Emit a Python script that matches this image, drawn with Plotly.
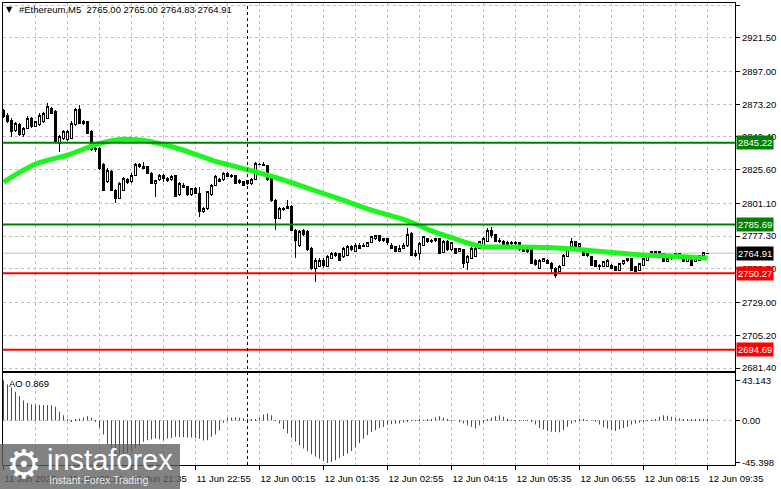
import plotly.graph_objects as go
import pandas as pd

# ---------------- data ----------------
symbol_title = "#Ethereum,M5  2765.00 2765.00 2764.83 2764.91"
ao_title = "AO 0.869"
start_time = "2025-06-11 18:55"
n_bars = 177

opens = [2868.5, 2865.3, 2861.7, 2854.4, 2858.1, 2850.8, 2855.7, 2862.9, 2856.9, 2858.1,
         2860.5, 2862.9, 2870.2, 2867.7, 2844.8, 2848.4, 2847.2, 2848.4, 2858.1, 2869.0,
         2859.3, 2860.5, 2853.2, 2841.1, 2841.1, 2829.0, 2816.8, 2824.1, 2810.8, 2804.8,
         2810.8, 2818.8, 2816.8, 2821.7, 2829.0, 2827.8, 2827.8, 2823.0, 2815.7, 2818.1,
         2821.7, 2819.5, 2818.1, 2821.0, 2807.2, 2814.4, 2813.2, 2807.2, 2812.0, 2808.4,
         2795.1, 2797.6, 2807.2, 2814.4, 2818.1, 2818.1, 2823.0, 2820.5, 2821.7, 2816.0,
         2816.8, 2815.2, 2815.2, 2818.6, 2829.0, 2829.7, 2828.3, 2819.5, 2803.5, 2790.2,
         2797.5, 2797.5, 2798.7, 2781.7, 2770.1, 2781.7, 2780.6, 2768.4, 2753.8, 2755.0,
         2759.9, 2755.0, 2761.1, 2764.8, 2764.8, 2762.3, 2763.5, 2769.6, 2766.0, 2770.8,
         2769.6, 2769.6, 2773.0, 2775.9, 2777.4, 2774.4, 2775.7, 2770.8, 2769.6, 2766.0,
         2768.4, 2770.8, 2779.3, 2764.8, 2765.0, 2770.8, 2775.7, 2773.7, 2774.4, 2775.2,
         2765.7, 2773.7, 2767.2, 2768.4, 2766.0, 2767.2, 2758.3, 2761.1, 2762.3, 2768.4,
         2770.8, 2773.2, 2781.7, 2778.1, 2773.2, 2773.2, 2771.5, 2773.0, 2772.0, 2772.3,
         2768.4, 2766.0, 2767.2, 2759.9, 2753.9, 2758.7, 2759.9, 2757.6, 2753.9, 2751.3,
         2756.2, 2762.3, 2769.6, 2773.2, 2769.6, 2766.0, 2763.5, 2762.3, 2759.9, 2755.0,
         2755.0, 2755.0, 2756.2, 2755.0, 2752.4, 2757.6, 2759.9, 2761.1, 2755.0, 2752.4,
         2756.2, 2759.9, 2764.8, 2766.0, 2764.8, 2764.8, 2758.7, 2761.1, 2762.3, 2764.8,
         2762.3, 2758.7, 2761.1, 2758.7, 2759.9, 2763.5, 2765.00]
highs = [2869.9, 2866.8, 2863.2, 2860.2, 2859.5, 2856.6, 2864.6, 2863.9, 2861.0, 2866.8,
         2867.5, 2873.8, 2871.4, 2869.0, 2850.8, 2854.4, 2854.4, 2861.0, 2870.4, 2872.6,
         2861.7, 2861.3, 2854.4, 2842.8, 2841.8, 2830.4, 2826.8, 2825.3, 2811.5, 2816.6,
         2820.3, 2819.5, 2823.2, 2830.4, 2830.2, 2831.4, 2828.3, 2824.0, 2818.1, 2822.4,
         2822.4, 2820.3, 2821.7, 2821.7, 2816.6, 2815.9, 2813.7, 2812.3, 2813.0, 2813.2,
         2798.5, 2810.1, 2815.2, 2821.7, 2819.5, 2824.0, 2824.1, 2822.4, 2822.0, 2818.8,
         2817.4, 2818.1, 2819.5, 2831.2, 2830.4, 2831.2, 2829.0, 2820.3, 2804.3, 2798.5,
         2798.5, 2803.5, 2799.9, 2782.5, 2781.7, 2782.5, 2781.7, 2769.3, 2761.4, 2761.4,
         2761.4, 2763.5, 2765.7, 2765.9, 2765.0, 2769.3, 2770.8, 2770.8, 2772.3, 2772.0,
         2772.0, 2773.2, 2777.4, 2778.1, 2778.1, 2775.9, 2775.9, 2772.3, 2770.1, 2770.8,
         2772.0, 2783.0, 2780.3, 2767.2, 2773.2, 2777.4, 2775.9, 2775.0, 2776.2, 2775.7,
         2774.4, 2774.4, 2773.2, 2768.7, 2768.7, 2767.9, 2763.5, 2769.3, 2769.3, 2773.7,
         2776.6, 2783.0, 2784.2, 2778.8, 2775.7, 2774.4, 2773.7, 2773.7, 2773.7, 2773.2,
         2769.0, 2768.4, 2767.9, 2760.6, 2760.6, 2761.4, 2760.6, 2758.5, 2754.8, 2756.2,
         2764.3, 2767.9, 2775.7, 2773.7, 2772.3, 2766.4, 2765.3, 2762.8, 2760.2, 2757.0,
         2759.2, 2760.6, 2757.0, 2755.5, 2757.8, 2760.2, 2761.4, 2761.4, 2755.5, 2757.8,
         2761.4, 2765.0, 2766.4, 2766.1, 2766.1, 2765.0, 2761.4, 2762.4, 2765.0, 2765.0,
         2762.4, 2762.4, 2761.4, 2761.4, 2763.9, 2766.0, 2765.00]
lows = [2863.2, 2859.5, 2849.6, 2853.0, 2850.1, 2849.3, 2855.2, 2855.9, 2856.3, 2857.3,
        2859.5, 2862.4, 2866.1, 2845.7, 2838.6, 2847.2, 2846.4, 2847.9, 2857.3, 2858.8,
        2858.4, 2851.5, 2839.2, 2838.4, 2825.3, 2810.1, 2815.9, 2810.3, 2801.1, 2804.3,
        2810.1, 2815.2, 2815.9, 2821.0, 2826.8, 2826.6, 2822.4, 2815.2, 2806.0, 2817.4,
        2816.8, 2816.6, 2817.7, 2805.7, 2806.4, 2812.0, 2806.4, 2806.4, 2807.9, 2791.5,
        2794.1, 2796.3, 2806.4, 2813.7, 2816.6, 2817.4, 2820.3, 2819.9, 2815.2, 2815.2,
        2814.0, 2814.8, 2814.4, 2818.1, 2828.7, 2828.3, 2817.4, 2802.1, 2781.7, 2789.8,
        2795.6, 2797.3, 2781.0, 2761.1, 2769.4, 2777.4, 2766.4, 2752.4, 2744.1, 2754.8,
        2754.1, 2754.8, 2760.6, 2762.3, 2759.2, 2761.4, 2762.8, 2766.4, 2765.7, 2768.0,
        2769.3, 2769.3, 2772.3, 2774.4, 2773.2, 2773.2, 2770.8, 2767.9, 2765.7, 2765.5,
        2767.9, 2769.6, 2763.1, 2762.3, 2759.9, 2770.5, 2772.0, 2772.0, 2773.2, 2764.8,
        2765.5, 2766.8, 2766.8, 2764.3, 2765.7, 2754.0, 2752.4, 2760.6, 2762.0, 2767.9,
        2770.1, 2773.0, 2775.7, 2773.0, 2772.0, 2770.8, 2769.6, 2768.4, 2768.4, 2766.8,
        2765.7, 2764.8, 2757.1, 2755.9, 2753.7, 2758.5, 2757.1, 2750.2, 2746.6, 2751.2,
        2755.9, 2762.0, 2769.3, 2769.3, 2769.3, 2763.1, 2762.3, 2755.9, 2754.8, 2752.4,
        2754.8, 2754.8, 2753.7, 2752.1, 2752.1, 2756.2, 2758.7, 2752.1, 2751.2, 2752.1,
        2755.9, 2759.5, 2763.5, 2764.7, 2763.5, 2758.5, 2758.5, 2759.9, 2762.0, 2761.0,
        2758.5, 2758.5, 2755.9, 2758.5, 2759.5, 2763.1, 2764.83]
closes = [2864.1, 2860.5, 2853.2, 2859.3, 2850.8, 2855.7, 2862.9, 2856.9, 2860.3, 2865.3,
          2866.6, 2871.4, 2866.6, 2845.9, 2849.6, 2853.2, 2853.2, 2859.3, 2869.0, 2859.3,
          2860.5, 2852.0, 2839.9, 2839.9, 2826.6, 2810.8, 2825.3, 2810.8, 2804.8, 2815.7,
          2819.4, 2816.6, 2821.7, 2829.0, 2827.8, 2826.8, 2823.0, 2815.7, 2817.4, 2821.7,
          2819.5, 2817.4, 2820.5, 2806.0, 2815.7, 2812.3, 2807.2, 2812.0, 2808.4, 2795.1,
          2797.6, 2809.6, 2814.4, 2820.5, 2816.8, 2823.0, 2820.5, 2821.7, 2815.7, 2817.4,
          2814.4, 2817.4, 2818.8, 2830.2, 2829.7, 2828.6, 2818.1, 2803.5, 2790.2, 2797.5,
          2796.3, 2798.7, 2781.7, 2774.4, 2780.6, 2778.1, 2767.2, 2753.8, 2759.9, 2759.9,
          2755.6, 2762.3, 2764.8, 2763.5, 2759.9, 2768.4, 2769.6, 2767.2, 2770.8, 2768.4,
          2770.8, 2773.0, 2776.9, 2777.4, 2774.4, 2775.7, 2772.3, 2768.4, 2766.0, 2768.4,
          2770.5, 2778.1, 2763.5, 2763.5, 2772.0, 2776.9, 2773.7, 2774.4, 2775.7, 2765.0,
          2773.7, 2767.2, 2772.3, 2764.8, 2768.4, 2757.6, 2762.3, 2768.4, 2768.4, 2773.2,
          2775.7, 2781.7, 2777.4, 2773.2, 2774.4, 2771.5, 2773.0, 2772.0, 2773.0, 2767.2,
          2766.0, 2767.9, 2757.6, 2756.3, 2759.9, 2761.1, 2757.6, 2753.9, 2749.0, 2755.0,
          2763.5, 2767.2, 2773.2, 2769.6, 2772.0, 2763.5, 2764.8, 2756.2, 2755.0, 2756.2,
          2758.7, 2759.9, 2753.9, 2752.4, 2757.6, 2759.9, 2761.1, 2752.4, 2751.3, 2757.6,
          2761.1, 2764.8, 2766.0, 2764.8, 2766.0, 2758.7, 2761.1, 2762.3, 2764.8, 2761.1,
          2758.7, 2762.3, 2756.2, 2761.1, 2763.5, 2765.7, 2764.91]

ao_values = [43.14, 38.6, 35.3, 30.7, 26.1, 21.4, 18.6, 17.5, 16.9, 16.7,
             16.5, 16.4, 16.2, 14.6, 9.3, 5.7, 1.0, -0.9, 0.6, 2.1,
             3.2, 4.6, 2.9, -1.4, -7.9, -15.0, -25.0, -32.6, -36.9, -39.0,
             -38.0, -35.0, -32.0, -29.6, -26.4, -22.8, -21.1, -20.0, -19.3, -20.0,
             -21.1, -19.3, -18.6, -17.5, -17.7, -17.9, -18.1, -18.3, -18.6, -19.6,
             -21.4, -21.1, -17.5, -15.0, -10.7, -2.5, 2.9, 3.2, 3.4, 2.9,
             2.1, 1.8, 1.4, 1.1, 2.9, 6.4, 7.5, 5.7, 0.4, -3.2,
             -9.0, -14.0, -18.5, -22.5, -26.5, -30.0, -33.0, -36.0, -38.5, -41.0,
             -43.3, -45.4, -44.5, -42.5, -40.5, -38.0, -35.5, -32.5, -29.0, -24.0,
             -19.5, -15.7, -12.3, -10.4, -8.0, -6.8, -4.5, -3.7, -3.4, -3.2,
             -2.1, -1.1, -0.5, 0.3, 0.6, 0.2, 0.8, 1.2, 3.6, 4.6,
             2.9, 1.4, 0.4, 0.0, -0.7, -3.2, -5.0, -6.8, -8.6, -5.0,
             -2.1, 0.7, 2.9, 4.6, 5.7, 3.9, 2.1, 0.4, 0.3, 0.1,
             -0.2, -0.5, -1.4, -4.3, -7.9, -9.6, -11.1, -12.1, -12.3, -12.5,
             -10.4, -6.8, -3.2, -0.7, 1.1, 1.2, 0.4, 0.0, -0.7, -4.3,
             -7.1, -8.6, -10.4, -11.1, -9.3, -7.9, -6.8, -4.3, -3.2, -2.5,
             -1.4, -0.4, 0.4, 1.4, 3.9, 5.7, 5.0, 3.9, 2.9, 2.1,
             1.6, 1.3, 1.1, 1.0, 0.95, 0.9, 0.869]

ma_bar_index = [0, 8, 16, 24, 30, 36, 44, 52, 60, 68, 76, 84, 92, 100, 104, 108,
                112, 116, 120, 124, 128, 136, 144, 152, 160, 168, 176]
ma_values = [2816.6, 2829.7, 2836.2, 2844.6, 2847.7, 2846.4, 2840.6, 2832.6, 2826.4,
             2819.9, 2812.2, 2804.3, 2796.2, 2789.4, 2784.9, 2780.0, 2776.3, 2772.3,
             2769.6, 2769.4, 2769.4, 2769.0, 2767.6, 2765.4, 2763.5, 2762.6, 2761.2]

price_ticks = [2945.30, 2921.50, 2897.00, 2873.20, 2849.40, 2825.60, 2801.10,
               2777.30, 2753.50, 2729.00, 2705.20, 2681.40]
ao_ticks = [43.143, 0.0, -45.398]
ao_tick_text = ["43.143", "0.00", "-45.398"]

time_labels = ["11 Jun 2025", "11 Jun 20:15", "11 Jun 21:35", "11 Jun 22:55",
               "12 Jun 00:15", "12 Jun 01:35", "12 Jun 02:55", "12 Jun 04:15",
               "12 Jun 05:35", "12 Jun 06:55", "12 Jun 08:15", "12 Jun 09:35"]
time_label_bars = [0, 16, 32, 48, 64, 80, 96, 112, 128, 144, 160, 176]
grid_every_bars = 8
day_separator = "2025-06-12 00:00"

resistance_levels = [2845.22, 2785.69]
support_levels = [2750.27, 2694.69]
bid_price = 2764.91

# ---------------- derived positions ----------------
times = pd.date_range(start_time, periods=n_bars, freq="5min")
step = pd.Timedelta(minutes=5)
half_px = pd.Timedelta(seconds=37.5)
x_range = [times[0] - half_px, times[0] - half_px + step * 183]
grid_times = [times[i] for i in range(0, n_bars, grid_every_bars)]
label_times = [times[i] for i in time_label_bars]
ma_times = [times[i] for i in ma_bar_index]

ao_colors = []
for k, v in enumerate(ao_values):
    ao_colors.append("#008000" if (k > 0 and v > ao_values[k - 1]) else "#FF0000")

W, H = 781, 489
FONT = "Liberation Sans"
FS = 9.5
px_x = lambda p: p / W
px_y = lambda p: 1 - p / H

fig = go.Figure()

fig.add_trace(go.Candlestick(
    x=times, open=opens, high=highs, low=lows, close=closes,
    increasing=dict(line=dict(color="black", width=1), fillcolor="white"),
    decreasing=dict(line=dict(color="black", width=1), fillcolor="black"),
    whiskerwidth=0, xaxis="x", yaxis="y", showlegend=False, hoverinfo="skip"))

fig.add_trace(go.Scatter(
    x=ma_times, y=ma_values, mode="lines",
    line=dict(color="#1EF51E", width=5, shape="spline", smoothing=0.8),
    xaxis="x", yaxis="y", showlegend=False, hoverinfo="skip"))

fig.add_trace(go.Bar(
    x=times, y=ao_values, width=60000,
    marker=dict(color=ao_colors, line=dict(width=0)),
    xaxis="x2", yaxis="y2", showlegend=False, hoverinfo="skip"))

grid_style = dict(showgrid=True, gridcolor="#C0C0C0", griddash="3px,3px", gridwidth=1)
frame = dict(showline=True, linecolor="black", linewidth=1, mirror=True, automargin=False)

main_dom = [px_y(371), px_y(3)]
ao_dom = [px_y(465), px_y(373)]
x_dom = [px_x(3), px_x(735)]

fig.update_layout(
    width=W, height=H, margin=dict(l=0, r=0, t=0, b=0, autoexpand=False),
    paper_bgcolor="white", plot_bgcolor="white",
    font=dict(family=FONT, size=FS, color="black"),
    xaxis=dict(domain=x_dom, range=x_range, type="date", anchor="y",
               tickvals=grid_times, showticklabels=False, ticks="",
               rangeslider=dict(visible=False), zeroline=False, **grid_style, **frame),
    yaxis=dict(domain=main_dom, range=[2679.22, 2946.76], side="right", anchor="x",
               tickvals=price_ticks, ticktext=[f"{v:.2f}" for v in price_ticks],
               ticks="outside", ticklen=4, tickcolor="black",
               tickfont=dict(family=FONT, size=FS, color="black"),
               zeroline=False, **grid_style, **frame),
    xaxis2=dict(domain=x_dom, range=x_range, type="date", anchor="y2",
                tickvals=label_times, ticktext=time_labels, tickangle=0,
                ticks="outside", ticklen=4, tickcolor="black",
                ticklabelposition="outside right", ticklabelstandoff=5,
                tickfont=dict(family=FONT, size=FS, color="black"),
                minor=dict(tickvals=grid_times, showgrid=True, gridcolor="#C0C0C0",
                           griddash="3px,3px", ticks=""),
                zeroline=False, **grid_style, **frame),
    yaxis2=dict(domain=ao_dom, range=[-47.6, 50.83], side="right", anchor="x2",
                tickvals=ao_ticks, ticktext=ao_tick_text,
                ticks="outside", ticklen=4, tickcolor="black",
                tickfont=dict(family=FONT, size=FS, color="black"),
                showgrid=False, zeroline=False, **frame),
)

shapes = []
shapes.append(dict(type="line", xref="x2 domain", x0=0, x1=1, yref="y2", y0=0, y1=0,
                   line=dict(color="#C0C0C0", width=1, dash="3px,3px"), layer="below"))
shapes.append(dict(type="line", xref="x domain", x0=0, x1=1, yref="y", y0=bid_price, y1=bid_price,
                   line=dict(color="#C0C0C0", width=1), layer="below"))
for lv in resistance_levels:
    shapes.append(dict(type="line", xref="x domain", x0=0, x1=1, yref="y", y0=lv, y1=lv,
                       line=dict(color="#008000", width=2)))
for lv in support_levels:
    shapes.append(dict(type="line", xref="x domain", x0=0, x1=1, yref="y", y0=lv, y1=lv,
                       line=dict(color="#FF0000", width=2)))
shapes.append(dict(type="line", xref="x", x0=pd.Timestamp(day_separator), x1=pd.Timestamp(day_separator),
                   yref="paper", y0=px_y(465), y1=px_y(3),
                   line=dict(color="black", width=1, dash="3px,3px")))
shapes.append(dict(type="rect", xref="paper", yref="paper", x0=0, x1=px_x(180),
                   y0=0, y1=px_y(444), fillcolor="rgba(95,95,95,0.78)",
                   line=dict(width=0), layer="above"))
fig.update_layout(shapes=shapes)

ann = []
ann.append(dict(text="▼", xref="paper", yref="paper", x=px_x(4), y=px_y(10),
                xanchor="left", yanchor="middle", showarrow=False,
                font=dict(family="DejaVu Sans", size=8, color="black")))
ann.append(dict(text=symbol_title, xref="paper", yref="paper", x=px_x(17), y=px_y(10),
                xanchor="left", yanchor="middle", showarrow=False,
                font=dict(family=FONT, size=FS, color="black")))
ann.append(dict(text=ao_title, xref="paper", yref="paper", x=px_x(7), y=px_y(383),
                xanchor="left", yanchor="middle", showarrow=False,
                font=dict(family=FONT, size=FS, color="black")))
for lv, col in [(resistance_levels[0], "#008000"), (resistance_levels[1], "#008000"),
                (support_levels[0], "#FF0000"), (support_levels[1], "#FF0000"),
                (bid_price, "black")]:
    ann.append(dict(text=f"{lv:.2f}", xref="paper", yref="y", x=px_x(736), y=lv,
                    xanchor="left", yanchor="middle", showarrow=False,
                    bgcolor=col, borderpad=1,
                    font=dict(family=FONT, size=FS, color="white")))
ann.append(dict(text="⚙", xref="paper", yref="paper", x=px_x(24), y=px_y(464),
                xanchor="center", yanchor="middle", showarrow=False,
                font=dict(family="DejaVu Sans", size=40, color="white")))
ann.append(dict(text="instaforex", xref="paper", yref="paper", x=px_x(45), y=px_y(460),
                xanchor="left", yanchor="middle", showarrow=False,
                font=dict(family="Liberation Sans", size=29, color="white")))
ann.append(dict(text="Instant Forex Trading", xref="paper", yref="paper", x=px_x(47), y=px_y(480),
                xanchor="left", yanchor="middle", showarrow=False,
                font=dict(family="Liberation Sans", size=10.5, color="rgba(255,255,255,0.85)")))
fig.update_layout(annotations=ann)

post = ("document.body.style.margin='0';document.body.style.padding='0';"
        "document.querySelectorAll('.xy .boxlayer path')"
        ".forEach(function(p){p.style.shapeRendering='crispEdges';});")
fig.write_html("out.html", post_script=post, config={"displayModeBar": False})
